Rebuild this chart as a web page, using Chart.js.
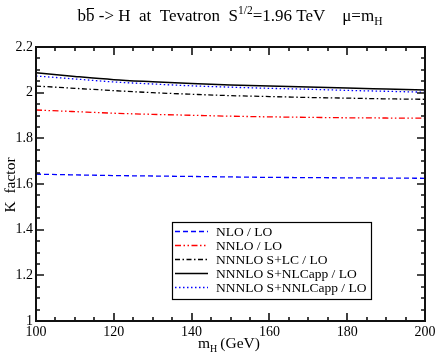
<!DOCTYPE html>
<html>
<head>
<meta charset="utf-8">
<script src="https://cdn.jsdelivr.net/npm/chart.js@4"></script>
<style>
  html, body { margin: 0; padding: 0; background: #fff; }
  canvas { display: block; }
</style>
</head>
<body>
<canvas id="kfactor" width="436" height="356"></canvas>
<script>
// Higgs masses (GeV)
const masses = [100, 110, 120, 130, 140, 150, 160, 170, 180, 190, 200];

// K factors
const nloLo        = [1.643, 1.640, 1.637, 1.635, 1.633, 1.631, 1.629, 1.628, 1.627, 1.626, 1.625];
const nnloLo       = [1.924, 1.917, 1.910, 1.905, 1.901, 1.897, 1.894, 1.892, 1.890, 1.889, 1.888];
const nnnloLcLo    = [2.029, 2.019, 2.009, 2.000, 1.993, 1.987, 1.983, 1.979, 1.976, 1.973, 1.971];
const nnnloNlcLo   = [2.087, 2.071, 2.057, 2.048, 2.040, 2.034, 2.029, 2.025, 2.020, 2.016, 2.012];
const nnnloNnlcLo  = [2.073, 2.060, 2.047, 2.038, 2.030, 2.024, 2.019, 2.015, 2.010, 2.006, 2.002];

// minor tick steps
const xMinorStep = 5;
const yMinorStep = 0.05;

const serif = "'Liberation Serif', 'Times New Roman', serif";

function pts(vals) {
    return masses.map((m, i) => ({ x: m, y: vals[i] }));
}

// ticks pointing inward on all four sides + frame
const frameTicks = {
    id: "frameTicks",
    afterDraw(chart) {
        const ctx = chart.ctx;
        const a = chart.chartArea;
        const xs = chart.scales.x;
        const ys = chart.scales.y;
        ctx.save();
        ctx.setLineDash([]);
        ctx.strokeStyle = "#111";
        ctx.lineWidth = 1.6;
        const nx = Math.round((xs.max - xs.min) / xMinorStep);
        for (let k = 0; k <= nx; k++) {
            const px = Math.round(xs.getPixelForValue(xs.min + k * xMinorStep));
            const len = (k % 4 === 0) ? 8 : 4;
            ctx.beginPath();
            ctx.moveTo(px, a.bottom);
            ctx.lineTo(px, a.bottom - len);
            ctx.moveTo(px, a.top);
            ctx.lineTo(px, a.top + len);
            ctx.stroke();
        }
        const ny = Math.round((ys.max - ys.min) / yMinorStep);
        for (let k = 0; k <= ny; k++) {
            const py = Math.round(ys.getPixelForValue(ys.min + k * yMinorStep));
            const len = (k % 4 === 0) ? 8 : 4;
            ctx.beginPath();
            ctx.moveTo(a.left, py);
            ctx.lineTo(a.left + len, py);
            ctx.moveTo(a.right, py);
            ctx.lineTo(a.right - len, py);
            ctx.stroke();
        }
        ctx.lineWidth = 2;
        ctx.strokeRect(a.left, a.top, a.right - a.left, a.bottom - a.top);
        ctx.restore();
    }
};

// legend box inside the plot
const boxLegend = {
    id: "boxLegend",
    afterDraw(chart) {
        const ctx = chart.ctx;
        const left = 172, top = 222, right = 371, bottom = 299;
        ctx.save();
        ctx.fillStyle = "#fff";
        ctx.fillRect(left, top, right - left, bottom - top);
        ctx.strokeStyle = "#000";
        ctx.lineWidth = 1.2;
        ctx.strokeRect(left + 0.5, top + 0.5, right - left, bottom - top);
        ctx.font = "13.5px " + serif;
        ctx.textBaseline = "middle";
        chart.data.datasets.forEach((ds, i) => {
            const y = 231 + i * 14;
            ctx.strokeStyle = ds.borderColor;
            ctx.lineWidth = ds.borderWidth;
            ctx.setLineDash(ds.borderDash || []);
            ctx.beginPath();
            ctx.moveTo(175, y + 0.5);
            ctx.lineTo(208, y + 0.5);
            ctx.stroke();
            ctx.setLineDash([]);
            ctx.fillStyle = "#000";
            ctx.fillText(ds.label, 216, y + 1);
        });
        ctx.restore();
    }
};

// title and axis titles with sub/superscripts
const titles = {
    id: "titles",
    afterDraw(chart) {
        const ctx = chart.ctx;
        ctx.save();
        ctx.fillStyle = "#000";
        ctx.textBaseline = "alphabetic";

        // header
        const big = "17px " + serif, small = "11.5px " + serif;
        const parts = [
            ["bb", big, 0],
            [" -> H  at  Tevatron  S", big, 0],
            ["1/2", small, -7],
            ["=1.96 TeV    \u03bc=m", big, 0],
            ["H", small, 4]
        ];
        let w = 0;
        parts.forEach(p => { ctx.font = p[1]; w += ctx.measureText(p[0]).width; });
        let x = 230 - w / 2;
        const base = 21;
        parts.forEach((p, i) => {
            ctx.font = p[1];
            ctx.fillText(p[0], x, base + p[2]);
            if (i === 0) {
                const bw = ctx.measureText("b").width;
                ctx.fillRect(x + bw + 1, base - 13, bw - 1.5, 1);
            }
            x += ctx.measureText(p[0]).width;
        });

        // x axis title
        ctx.font = "15.5px " + serif;
        let xx = 198;
        ctx.fillText("m", xx, 348);
        xx += ctx.measureText("m").width;
        ctx.font = "10px " + serif;
        ctx.fillText("H", xx, 352);
        xx += ctx.measureText("H").width + 3;
        ctx.font = "15.5px " + serif;
        ctx.fillText("(GeV)", xx, 348);

        // y axis title
        ctx.translate(15, 185);
        ctx.rotate(-Math.PI / 2);
        ctx.font = "15.5px " + serif;
        ctx.textAlign = "center";
        ctx.fillText("K  factor", 0, 0);
        ctx.restore();
    }
};

new Chart(document.getElementById("kfactor"), {
    type: "line",
    data: {
        datasets: [
            { label: "NLO / LO", data: pts(nloLo), borderColor: "#0000ff", borderWidth: 1.3, borderDash: [5, 3] },
            { label: "NNLO / LO", data: pts(nnloLo), borderColor: "#ff0000", borderWidth: 1.3, borderDash: [6, 2.5, 1.5, 2.5, 1.5, 2.5] },
            { label: "NNNLO S+LC / LO", data: pts(nnnloLcLo), borderColor: "#000000", borderWidth: 1.3, borderDash: [5, 2.5, 1.5, 2.5] },
            { label: "NNNLO S+NLCapp / LO", data: pts(nnnloNlcLo), borderColor: "#000000", borderWidth: 1.5, borderDash: [] },
            { label: "NNNLO S+NNLCapp / LO", data: pts(nnnloNnlcLo), borderColor: "#0000ff", borderWidth: 1.3, borderDash: [1.5, 2.5] }
        ]
    },
    options: {
        responsive: false,
        animation: false,
        layout: { padding: { top: 47, right: 11, left: 0, bottom: 0 } },
        elements: {
            point: { radius: 0 },
            line: { tension: 0.4, cubicInterpolationMode: "monotone", fill: false }
        },
        plugins: {
            legend: { display: false },
            tooltip: { enabled: false }
        },
        scales: {
            x: {
                type: "linear",
                min: 100,
                max: 200,
                grid: { display: false, drawTicks: false },
                border: { display: false },
                ticks: {
                    stepSize: 20,
                    padding: 3,
                    color: "#000",
                    maxRotation: 0,
                    font: { family: serif, size: 14 }
                },
                afterFit(scale) {
                    scale.height = 35;
                    scale.paddingLeft = 0;
                    scale.paddingRight = 0;
                }
            },
            y: {
                min: 1,
                max: 2.2,
                grid: { display: false, drawTicks: false },
                border: { display: false },
                ticks: {
                    stepSize: 0.2,
                    padding: 3,
                    color: "#000",
                    font: { family: serif, size: 14 },
                    callback: v => String(Math.round(v * 10) / 10)
                },
                afterFit(scale) {
                    scale.width = 36;
                    scale.paddingTop = 0;
                    scale.paddingBottom = 0;
                }
            }
        }
    },
    plugins: [frameTicks, boxLegend, titles]
});
</script>
</body>
</html>
